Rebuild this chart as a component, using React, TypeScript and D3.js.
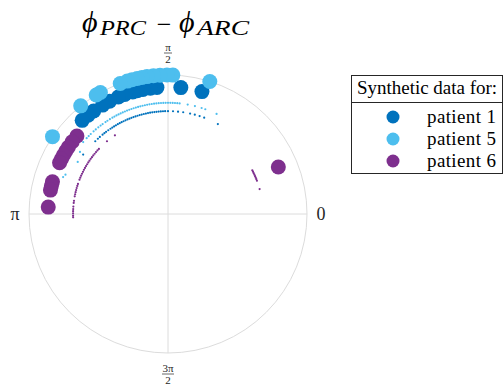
import React from "react";
import * as d3 from "d3";

// Phase difference φ_PRC − φ_ARC on the unit circle (angles in degrees)
const seriesNames = ["patient 1", "patient 5", "patient 6"];
const seriesColors = ["#0072BD", "#4DBEEE", "#7E2F8E"];

// Measured phase differences per patient (large markers)
const patient1Angles = [74.5, 84.2, 95, 98, 101.4, 104, 106.1, 109.9, 113, 117.4, 121, 125.8, 129, 132.5];
const patient5Angles = [72.5, 88, 90.4, 93.3, 96, 98.7, 100.8, 102.8, 105, 107, 110.1, 119.1, 121.1, 128.9, 146.2];
const patient6Angles = [23.1, 139.4, 143, 146.2, 148.5, 150.7, 152.7, 154.7, 164.4, 166.5, 168.5, 176.7];
const patientRadius = [0.914, 1.0, 0.863];

// Synthetic phase differences per patient (small markers)
const synth1Angles = [
  61, 69.4, 72.1, 74.9, 77.6, 81.5, 84.4, 87.2, 90, 91.6, 92.8, 94, 95.2, 96.4, 97.6, 98.8, 100,
  101.2, 102.4, 103.6, 104.8, 106, 107.2, 108.4, 109.6, 110.8, 112, 113.2, 114.4, 115.6, 116.8,
  118, 119.2, 120.4, 121.6, 122.8, 124, 125.5, 127, 128.2, 129.5, 131.5, 133, 135,
];
const synth5Angles = [
  64.1, 70.4, 72.4, 76, 79.8, 84, 85.2, 86.4, 87.6, 88.8, 90, 91.2, 92.4, 93.6, 94.8, 96, 97.2,
  98.4, 99.6, 100.8, 102, 103.2, 104.4, 105.6, 106.8, 108, 109.2, 110.4, 111.6, 112.8, 114, 115.2,
  116.4, 117.6, 118.8, 120, 121.5, 123, 124.2, 126, 127.3, 128.8, 130.5, 132, 134, 135.5, 137,
  139.7, 160.6,
];
const synth6Angles = [
  15.2, 20.5, 21.5, 22.5, 23.5, 24.5, 25.5, 26.5, 27.4, 124, 130, 136.7, 138, 139.3, 140.6, 141.9,
  143.2, 144.5, 145.8, 147.1, 148.4, 149.7, 151, 152.3, 153.6, 154.9, 156.2, 157.5, 158.8, 161.5,
  162.8, 164.1, 165.4, 166.7, 168, 169.3, 172, 173.3, 175.5, 177, 178.3, 179.6, 181, 182,
];
const synthRadius = [0.74, 0.8, 0.683];

// Scattered synthetic points off the main arcs: [angle, radius, series]
const synthStray: [number, number, number][] = [
  [145, 0.745, 0],
  [144.8, 0.775, 1],
  [150, 0.75, 1],
  [159, 0.79, 1],
];

const tickLabels = [
  { angle: 0, num: "0", den: "" },
  { angle: 90, num: "π", den: "2" },
  { angle: 180, num: "π", den: "" },
  { angle: 270, num: "3π", den: "2" },
];

const W = 504;
const H = 385;
const CX = 168;
const CY = 214;
const R = 139;
const SERIF = "'Liberation Serif', 'DejaVu Serif', serif";

const rScale = d3.scaleLinear().domain([0, 1]).range([0, R]);
const aScale = d3.scaleLinear().domain([0, 360]).range([0, 2 * Math.PI]);

const px = (deg: number, r: number) => CX + rScale(r) * Math.cos(aScale(deg));
const py = (deg: number, r: number) => CY - rScale(r) * Math.sin(aScale(deg));

export default function App() {
  const patients = [patient1Angles, patient5Angles, patient6Angles];
  const synth = [synth1Angles, synth5Angles, synth6Angles];
  const grid = "#dcdcdc";

  return (
    <svg
      width={W}
      height={H}
      viewBox={`0 0 ${W} ${H}`}
      style={{ position: "absolute", left: 0, top: 0, background: "#fff" }}
    >
      {/* title: φ_PRC − φ_ARC */}
      <g fontFamily={SERIF} fill="#000">
        <text x={82} y={32} fontSize={30} fontStyle="italic">ϕ</text>
        <text x={100} y={35} fontSize={21} fontStyle="italic" textLength={46} lengthAdjust="spacingAndGlyphs">PRC</text>
        <text x={164} y={33} fontSize={26} textAnchor="middle">−</text>
        <text x={179} y={32} fontSize={30} fontStyle="italic">ϕ</text>
        <text x={197} y={35} fontSize={21} fontStyle="italic" textLength={52} lengthAdjust="spacingAndGlyphs">ARC</text>
      </g>

      {/* polar grid */}
      <circle cx={CX} cy={CY} r={R} fill="none" stroke={grid} strokeWidth={1} />
      {[0, 90].map((a) => (
        <line
          key={a}
          x1={px(a, 1)}
          y1={py(a, 1)}
          x2={px(a + 180, 1)}
          y2={py(a + 180, 1)}
          stroke={grid}
          strokeWidth={1}
        />
      ))}

      {/* angular tick labels */}
      {tickLabels.map((t) => {
        const off = 14;
        const x = CX + (R + off) * Math.cos(aScale(t.angle));
        const y = CY - (R + off) * Math.sin(aScale(t.angle));
        if (!t.den) {
          return (
            <text
              key={t.angle}
              x={x}
              y={y + 6}
              textAnchor="middle"
              fontFamily={SERIF}
              fontSize={18}
              fill="#262626"
            >
              {t.num}
            </text>
          );
        }
        const cy = t.angle === 90 ? 53 : 374;
        const half = t.num.length > 1 ? 6 : 4;
        return (
          <g key={t.angle} fontFamily={SERIF} fontSize={11} fill="#262626" textAnchor="middle">
            <text x={CX} y={cy - 2}>{t.num}</text>
            <line x1={CX - half} x2={CX + half} y1={cy} y2={cy} stroke="#262626" strokeWidth={0.7} />
            <text x={CX} y={cy + 10}>{t.den}</text>
          </g>
        );
      })}

      {/* synthetic data */}
      {synth.map((arr, i) => (
        <g key={`s${i}`} fill={seriesColors[i]}>
          {arr.map((a, j) => (
            <circle key={j} cx={px(a, synthRadius[i])} cy={py(a, synthRadius[i])} r={1.1} />
          ))}
        </g>
      ))}
      {synthStray.map(([a, r, s], j) => (
        <circle key={`st${j}`} cx={px(a, r)} cy={py(a, r)} r={1.1} fill={seriesColors[s]} />
      ))}

      {/* measured data */}
      {patients.map((arr, i) => (
        <g key={`p${i}`} fill={seriesColors[i]}>
          {arr.map((a, j) => (
            <circle key={j} cx={px(a, patientRadius[i])} cy={py(a, patientRadius[i])} r={7.5} />
          ))}
        </g>
      ))}

      {/* legend */}
      <g fontFamily={SERIF} fill="#000">
        <rect x={351.5} y={75.5} width={151} height={98} fill="#fff" stroke="#262626" strokeWidth={1} />
        <line x1={351.5} x2={502.5} y1={102.5} y2={102.5} stroke="#262626" strokeWidth={1} />
        <text x={427} y={94} fontSize={19} textAnchor="middle" textLength={140} lengthAdjust="spacing">
          Synthetic data for:
        </text>
        {seriesNames.map((n, i) => (
          <g key={n}>
            <circle cx={393} cy={117 + i * 22} r={6.5} fill={seriesColors[i]} />
            <text x={427} y={123 + i * 22} fontSize={19} textLength={69} lengthAdjust="spacing">{n}</text>
          </g>
        ))}
      </g>
    </svg>
  );
}
